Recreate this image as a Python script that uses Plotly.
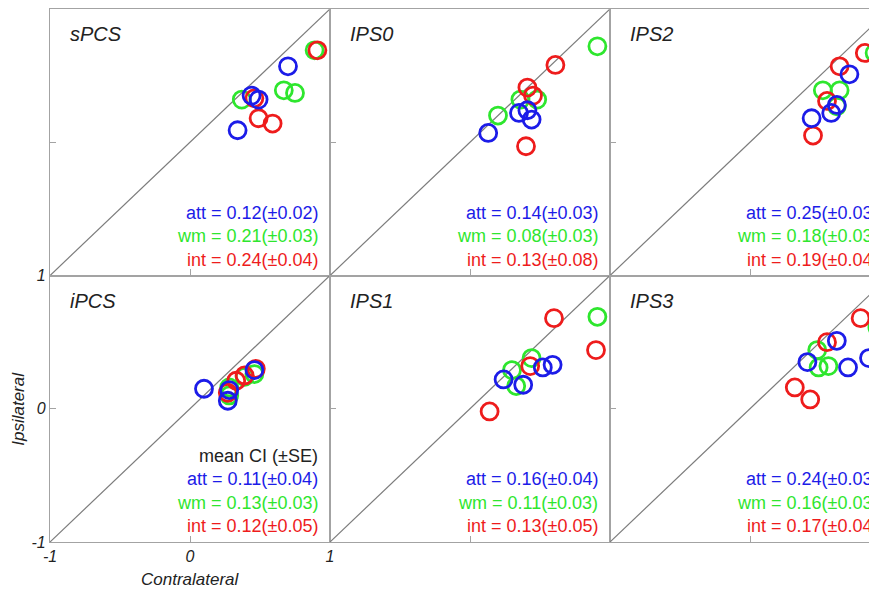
import plotly.graph_objects as go
from plotly.subplots import make_subplots

# ---------------- data ----------------
regions = ["sPCS", "IPS0", "IPS2", "iPCS", "IPS1", "IPS3"]

# contralateral (x) / ipsilateral (y) values, one list per region (4 subjects)
att_contra = [[0.70, 0.44, 0.49, 0.34], [0.35, 0.41, 0.44, 0.13], [0.71, 0.62, 0.58, 0.44],
              [0.10, 0.28, 0.27, 0.46], [0.52, 0.59, 0.24, 0.38], [0.62, 0.41, 0.70, 0.85]]
att_ipsi = [[0.57, 0.35, 0.32, 0.09], [0.22, 0.24, 0.17, 0.07], [0.51, 0.28, 0.22, 0.18],
            [0.15, 0.14, 0.06, 0.29], [0.31, 0.33, 0.22, 0.18], [0.51, 0.35, 0.31, 0.38]]

wm_contra = [[0.89, 0.67, 0.75, 0.37], [0.91, 0.36, 0.48, 0.20], [0.89, 0.52, 0.64, 0.62],
             [0.28, 0.28, 0.39, 0.46], [0.91, 0.44, 0.30, 0.33], [0.91, 0.48, 0.49, 0.56]]
wm_ipsi = [[0.69, 0.39, 0.37, 0.32], [0.72, 0.32, 0.32, 0.20], [0.67, 0.39, 0.39, 0.27],
           [0.16, 0.10, 0.24, 0.26], [0.69, 0.38, 0.29, 0.17], [0.61, 0.44, 0.31, 0.32]]

int_contra = [[0.91, 0.46, 0.49, 0.59], [0.61, 0.41, 0.45, 0.40], [0.82, 0.64, 0.55, 0.45],
              [0.33, 0.47, 0.39, 0.27], [0.60, 0.90, 0.43, 0.14], [0.79, 0.55, 0.32, 0.43]]
int_ipsi = [[0.69, 0.33, 0.18, 0.14], [0.58, 0.41, 0.35, -0.03], [0.67, 0.57, 0.31, 0.05],
            [0.21, 0.30, 0.25, 0.12], [0.68, 0.44, 0.32, -0.02], [0.68, 0.50, 0.16, 0.07]]

# mean CI (±SE) per region
att_mean = [0.12, 0.14, 0.25, 0.11, 0.16, 0.24]
att_se = [0.02, 0.03, 0.03, 0.04, 0.04, 0.03]
wm_mean = [0.21, 0.08, 0.18, 0.13, 0.11, 0.16]
wm_se = [0.03, 0.03, 0.03, 0.03, 0.03, 0.03]
int_mean = [0.24, 0.13, 0.19, 0.12, 0.13, 0.17]
int_se = [0.04, 0.08, 0.04, 0.05, 0.05, 0.04]

tick_vals = [-1, 0, 1]
tick_text = ["-1", "0", "1"]
axis_min, axis_max = -1, 1

# ---------------- style ----------------
BLUE = "#1c1ce8"
GREEN = "#2ee62e"
RED = "#ee1c1c"
GRAY = "#a3a3a3"
FONT = "Liberation Sans, Arial, sans-serif"

fig = make_subplots(rows=2, cols=3, column_widths=[280, 280, 267],
                    horizontal_spacing=0, vertical_spacing=0)

series = [("wm", wm_contra, wm_ipsi, GREEN),
          ("int", int_contra, int_ipsi, RED),
          ("att", att_contra, att_ipsi, BLUE)]

annotations = []
for i, name in enumerate(regions):
    r, c = i // 3 + 1, i % 3 + 1
    n = "" if i == 0 else str(i + 1)
    xref, yref = "x" + n, "y" + n

    # unity line
    fig.add_trace(go.Scatter(x=[axis_min, axis_max], y=[axis_min, axis_max], mode="lines",
                             line=dict(color="#7c7c7c", width=1.2), hoverinfo="skip",
                             showlegend=False), row=r, col=c)
    for label, xs, ys, col in series:
        fig.add_trace(go.Scatter(x=xs[i], y=ys[i], mode="markers", name=label,
                                 marker=dict(symbol="circle-open", size=17, color=col,
                                             line=dict(width=2.8, color=col)),
                                 showlegend=False), row=r, col=c)

    xmax = 0.907 if c == 3 else axis_max
    is_lab = (r == 2 and c == 1)
    fig.update_xaxes(row=r, col=c, range=[axis_min, xmax], showgrid=False, zeroline=False,
                     automargin=False,
                     showline=True, linecolor=GRAY, linewidth=1.2, mirror=True,
                     ticks="inside", ticklen=6, tickcolor=GRAY, tickwidth=1.2,
                     tickvals=tick_vals if is_lab else [0],
                     ticktext=tick_text if is_lab else ["0"],
                     showticklabels=is_lab,
                     tickfont=dict(family=FONT, size=16, color="#222", style="italic"))
    fig.update_yaxes(row=r, col=c, range=[axis_min, axis_max], showgrid=False, zeroline=False,
                     automargin=False,
                     showline=True, linecolor=GRAY, linewidth=1.2, mirror=(c != 3),
                     ticks="inside", ticklen=6, tickcolor=GRAY, tickwidth=1.2,
                     tickvals=tick_vals if is_lab else [0],
                     ticktext=tick_text if is_lab else ["0"],
                     showticklabels=is_lab,
                     tickfont=dict(family=FONT, size=16, color="#222", style="italic"))

    # region label
    annotations.append(dict(xref=xref, yref=yref, x=-0.87, y=0.81, text="<i>%s</i>" % name,
                            showarrow=False, xanchor="left", yanchor="middle",
                            font=dict(family=FONT, size=20, color="#222")))
    # stats (anchored inside the visible x range, nudged right in pixels)
    lines = [("att = %.2f(±%.2f)" % (att_mean[i], att_se[i]), BLUE, -0.53),
             ("wm = %.2f(±%.2f)" % (wm_mean[i], wm_se[i]), GREEN, -0.705),
             ("int = %.2f(±%.2f)" % (int_mean[i], int_se[i]), RED, -0.88)]
    if name == "iPCS":
        lines.insert(0, ("mean CI (±SE)", "#222", -0.355))
    for txt, colr, yy in lines:
        annotations.append(dict(xref=xref, yref=yref, x=0.9, xshift=4, y=yy, text=txt,
                                showarrow=False, xanchor="right", yanchor="middle",
                                font=dict(family=FONT, size=18, color=colr)))

# axis titles
annotations.append(dict(xref="x4", yref="paper", x=0, y=0, yshift=-37, text="<i>Contralateral</i>",
                        showarrow=False, xanchor="center", yanchor="middle",
                        font=dict(family=FONT, size=17, color="#222")))
annotations.append(dict(xref="paper", yref="y4", x=0, y=0, xshift=-31, text="<i>Ipsilateral</i>",
                        textangle=-90, showarrow=False, xanchor="center", yanchor="middle",
                        font=dict(family=FONT, size=17, color="#222")))

# the page body adds an 8 px offset; the figure is sized so it fits the window exactly
fig.update_layout(width=869, height=581, margin=dict(l=42, r=0, t=1, b=47),
                  paper_bgcolor="white", plot_bgcolor="white",
                  annotations=annotations, showlegend=False)

fig.write_html("out.html")
